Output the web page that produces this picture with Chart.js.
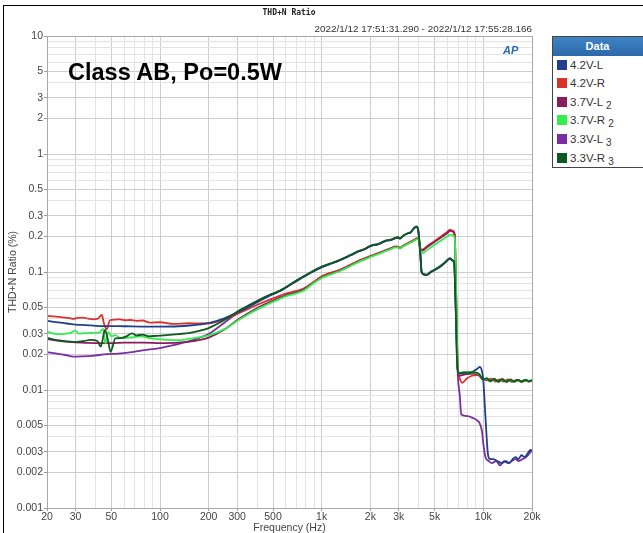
<!DOCTYPE html>
<html>
<head>
<meta charset="utf-8">
<script src="https://cdn.jsdelivr.net/npm/chart.js@4.4.1/dist/chart.umd.min.js"></script>
<style>
  html, body { margin:0; padding:0; background:#fff; }
  #wrap { position:relative; width:643px; height:533px; overflow:hidden; background:#fff; font-family:"Liberation Sans", Arial, sans-serif; }
  #c { position:absolute; left:0; top:0; }
  .t { position:absolute; white-space:nowrap; }
  #frame { position:absolute; left:3px; top:5px; width:700px; height:600px; border-left:1px solid #000; border-top:1px solid #000; }
  #title { left:0; width:578px; top:8px; text-align:center; font:bold 8px "DejaVu Sans Mono", monospace; line-height:9px; color:#222; }
  #date { right:111px; top:23px; font-size:9.9px; line-height:11px; color:#333; }
  #cls { left:68px; top:59px; font-weight:bold; font-size:23.5px; line-height:26px; color:#000; }
  #ap { left:503px; top:44px; font:italic bold 11px "Liberation Sans", Arial, sans-serif; color:#2a66b8; line-height:13px; }
  #legend { position:absolute; left:552px; top:36px; width:95px; height:130px; border:1px solid #444; background:#fff; }
  #legend .hd { height:19px; background:linear-gradient(#3f84c4,#2b68aa); color:#fff; font-weight:bold; font-size:11px; line-height:19px; text-align:center; padding-right:6px; }
  #legend .it { position:absolute; left:4px; font-size:11.5px; line-height:13px; color:#333; }
  #legend .sw { display:inline-block; width:10px; height:10px; margin-right:3px; vertical-align:-1px; }
  #legend sub { font-size:10px; vertical-align:-3px; line-height:0; }
</style>
</head>
<body>
<div id="wrap">
  <canvas id="c" width="643" height="533"></canvas>
  <div id="frame"></div>
  <div class="t" id="title">THD+N Ratio</div>
  <div class="t" id="date">2022/1/12 17:51:31.290 - 2022/1/12 17:55:28.166</div>
  <div class="t" id="cls">Class AB, Po=0.5W</div>
  <div class="t" id="ap">AP</div>
  <div id="legend"><div class="hd">Data</div></div>
</div>
<script>
// ---- axis labels ----
const Y_LABELS = [10,5,3,2,1,0.5,0.3,0.2,0.1,0.05,0.03,0.02,0.01,0.005,0.003,0.002,0.001];
const X_LABELS = [20,30,50,100,200,300,500,1000,2000,3000,5000,10000,20000];
const X_TEXT   = ['20','30','50','100','200','300','500','1k','2k','3k','5k','10k','20k'];
const SERIES_NAMES = ['4.2V-L','4.2V-R','3.7V-L 2','3.7V-R 2','3.3V-L 3','3.3V-R 3'];
const SERIES_COLORS = ['#213f8c','#d8322c','#8a1c5e','#33ee4a','#7a2ea4','#0e5a1e'];

// ---- series data: [frequency Hz, THD+N %] ----
const S_42L = [[20,0.0385],[22,0.0378],[25,0.037],[28,0.0362],[30,0.0358],[35,0.0355],[40,0.035],[50,0.0348],[60,0.0347],[80,0.0345],[100,0.0345],[130,0.0347],[153,0.0352],[180,0.036],[200,0.0368],[250,0.0405],[312,0.0465],[400,0.0555],[470,0.0625],[552,0.069],[700,0.084],[850,0.098],[1000,0.110],[1150,0.118],[1300,0.126],[1500,0.138],[1700,0.150],[1850,0.156],[1950,0.163],[2085,0.169],[2200,0.171],[2350,0.177],[2500,0.184],[2650,0.186],[2840,0.193],[2950,0.196],[3050,0.192],[3200,0.203],[3400,0.212],[3550,0.216],[3700,0.232],[3850,0.241],[3950,0.228],[4080,0.14],[4150,0.1],[4300,0.095],[4460,0.094],[4700,0.099],[5000,0.104],[5400,0.111],[5800,0.12],[6215,0.13],[6450,0.125],[6600,0.12],[6750,0.05],[6900,0.016],[7100,0.0138],[8000,0.0141],[8600,0.0143],[9200,0.0152],[9500,0.0157],[9800,0.0145],[10000,0.012],[10300,0.006],[10700,0.0028],[11000,0.0026],[11500,0.0026],[12200,0.0025],[13000,0.0024],[13800,0.0025],[14500,0.0024],[15200,0.0026],[15800,0.0027],[16500,0.0026],[17200,0.0028],[18000,0.0027],[18800,0.0029],[19600,0.0031],[20000,0.003]];
const S_42R = [[20,0.0424],[22,0.042],[24.4,0.0415],[26,0.041],[27.8,0.0406],[29,0.040],[31,0.0408],[33.4,0.041],[36,0.0402],[38.6,0.0397],[41,0.040],[43.7,0.0432],[45,0.0367],[46.8,0.0327],[49,0.039],[53,0.0395],[56.6,0.0397],[61,0.039],[65.7,0.0392],[71.7,0.0385],[78,0.0388],[86.7,0.0372],[100,0.0375],[121,0.0363],[150,0.0368],[177,0.0367],[200,0.0368],[250,0.0398],[312,0.0452],[400,0.0528],[500,0.0598],[600,0.0655],[769,0.0722],[900,0.083],[1000,0.092],[1300,0.105],[1500,0.115],[1700,0.125],[1900,0.133],[2085,0.140],[2300,0.147],[2500,0.154],[2700,0.160],[2840,0.165],[2950,0.164],[3050,0.161],[3200,0.168],[3500,0.179],[3750,0.188],[3890,0.194],[3990,0.189],[4080,0.16],[4150,0.154],[4500,0.166],[5000,0.183],[5500,0.201],[6000,0.219],[6215,0.228],[6450,0.224],[6650,0.21],[6800,0.06],[6950,0.015],[7100,0.0128],[7400,0.0115],[7900,0.0125],[8500,0.0132],[9200,0.0134],[9800,0.0126],[10500,0.0121],[11200,0.0125],[11900,0.0118],[12600,0.0123],[13400,0.0118],[14200,0.0123],[15000,0.0117],[16000,0.0122],[17000,0.0118],[18000,0.0122],[19000,0.0118],[20000,0.012]];
const S_37L = [[20,0.027],[25,0.0258],[30,0.0253],[40,0.025],[50,0.025],[60,0.0252],[80,0.0252],[100,0.025],[130,0.0252],[153,0.0257],[177,0.0266],[200,0.0278],[250,0.0325],[312,0.0405],[400,0.0495],[500,0.0572],[600,0.0635],[769,0.0705],[900,0.082],[1000,0.090],[1300,0.103],[1500,0.113],[1700,0.123],[1900,0.131],[2085,0.138],[2300,0.145],[2500,0.152],[2700,0.158],[2840,0.163],[2950,0.162],[3050,0.159],[3200,0.166],[3500,0.177],[3750,0.186],[3890,0.192],[3990,0.187],[4080,0.158],[4150,0.151],[4500,0.163],[5000,0.180],[5500,0.197],[6000,0.214],[6215,0.223],[6450,0.22],[6650,0.205],[6800,0.06],[6950,0.015],[7100,0.0132],[7600,0.0135],[8200,0.0137],[8800,0.0138],[9400,0.0134],[10000,0.0121],[10500,0.0124],[11000,0.0119],[11700,0.0123],[12400,0.0118],[13100,0.0122],[13900,0.0118],[14700,0.0121],[15500,0.0118],[16400,0.0122],[17300,0.0117],[18300,0.0121],[19200,0.0118],[20000,0.012]];
const S_37R = [[20,0.0312],[22,0.030],[24,0.0297],[26,0.030],[28,0.0305],[30,0.0318],[31.5,0.030],[34,0.0303],[38,0.0305],[42,0.0306],[44.5,0.033],[46,0.0248],[48,0.031],[50,0.0285],[53,0.0292],[57,0.0275],[65,0.0278],[75,0.0285],[90,0.0272],[110,0.0266],[130,0.0264],[153,0.0272],[177,0.028],[200,0.029],[250,0.0328],[312,0.0398],[400,0.0482],[500,0.0558],[600,0.0622],[769,0.0692],[900,0.081],[1000,0.089],[1300,0.102],[1500,0.112],[1700,0.122],[1900,0.130],[2085,0.137],[2300,0.144],[2500,0.151],[2700,0.157],[2840,0.162],[2950,0.161],[3050,0.158],[3200,0.165],[3500,0.176],[3750,0.185],[3890,0.190],[3990,0.186],[4080,0.155],[4150,0.143],[4500,0.154],[5000,0.170],[5500,0.186],[6000,0.200],[6215,0.207],[6450,0.205],[6650,0.195],[6800,0.06],[6950,0.015],[7100,0.014],[7600,0.0142],[8200,0.0141],[8800,0.014],[9400,0.0136],[10000,0.0122],[10500,0.0125],[11000,0.0118],[11700,0.0124],[12400,0.0117],[13100,0.0123],[13900,0.0117],[14700,0.0122],[15500,0.0117],[16400,0.0121],[17300,0.0118],[18300,0.0121],[19200,0.0119],[20000,0.0121]];
const S_33L = [[20,0.0209],[23,0.0203],[26,0.0198],[29,0.0192],[33,0.0193],[38,0.0195],[47,0.0201],[55,0.0203],[65,0.0208],[75,0.0215],[90,0.0222],[105,0.023],[121,0.024],[150,0.0258],[177,0.0278],[200,0.0298],[250,0.0372],[312,0.0465],[400,0.0565],[470,0.063],[552,0.069],[700,0.084],[850,0.098],[1000,0.110],[1150,0.118],[1300,0.126],[1500,0.138],[1700,0.150],[1850,0.156],[1950,0.163],[2085,0.169],[2200,0.171],[2350,0.177],[2500,0.184],[2650,0.186],[2840,0.193],[2950,0.196],[3050,0.192],[3200,0.203],[3400,0.212],[3550,0.216],[3700,0.232],[3850,0.241],[3950,0.228],[4080,0.14],[4150,0.1],[4300,0.095],[4460,0.094],[4700,0.099],[5000,0.104],[5400,0.111],[5800,0.12],[6215,0.13],[6450,0.125],[6600,0.12],[6750,0.05],[6950,0.0135],[7150,0.009],[7300,0.0062],[8000,0.006],[8600,0.0058],[9200,0.0055],[9500,0.0052],[9800,0.0045],[10000,0.0035],[10300,0.0027],[10800,0.0025],[11300,0.0024],[12000,0.0025],[12700,0.0023],[13400,0.0025],[14200,0.0024],[15000,0.0025],[15800,0.0026],[16600,0.0025],[17500,0.0026],[18400,0.0027],[19300,0.0029],[20000,0.0031]];
const S_33R = [[20,0.0277],[23,0.0265],[26,0.026],[30,0.0255],[34,0.026],[37,0.0266],[41,0.026],[43,0.0233],[45.7,0.0323],[47.5,0.027],[49.5,0.0211],[53,0.0274],[57,0.0275],[62,0.0285],[67,0.0302],[72,0.029],[78,0.0295],[85,0.0285],[95,0.0288],[110,0.0292],[130,0.0298],[153,0.0305],[177,0.0318],[200,0.0335],[250,0.0392],[312,0.0475],[400,0.057],[470,0.0635],[552,0.0695],[700,0.085],[850,0.099],[1000,0.111],[1150,0.119],[1300,0.127],[1500,0.139],[1700,0.151],[1850,0.157],[1950,0.164],[2085,0.170],[2200,0.172],[2350,0.178],[2500,0.185],[2650,0.187],[2840,0.194],[2950,0.197],[3050,0.193],[3200,0.204],[3400,0.213],[3550,0.217],[3700,0.233],[3850,0.243],[3950,0.229],[4080,0.14],[4150,0.1],[4300,0.096],[4460,0.095],[4700,0.1],[5000,0.105],[5400,0.112],[5800,0.121],[6215,0.131],[6450,0.126],[6600,0.121],[6750,0.05],[6900,0.016],[7100,0.0139],[7600,0.0141],[8200,0.014],[8800,0.0141],[9400,0.0137],[10000,0.0123],[10500,0.0126],[11000,0.0119],[11700,0.0124],[12400,0.0118],[13100,0.0124],[13900,0.0117],[14700,0.0123],[15500,0.0118],[16400,0.0122],[17300,0.0118],[18300,0.0122],[19200,0.0119],[20000,0.0121]];

const SERIES = [S_42L, S_42R, S_37L, S_37R, S_33L, S_33R];
const DRAW_ORDER = [2, 4, 3, 1, 5, 0]; // lower = drawn on top

// ---- legend (HTML) ----
const legend = document.getElementById('legend');
const rowTops = [22, 40, 59, 77, 96, 115];
SERIES_NAMES.forEach((n, i) => {
  const d = document.createElement('div');
  d.className = 'it';
  d.style.top = rowTops[i] + 'px';
  const parts = n.split(' ');
  d.innerHTML = '<span class="sw" style="background:' + SERIES_COLORS[i] + '"></span>' + parts[0] + (parts[1] ? ' <sub>' + parts[1] + '</sub>' : '');
  legend.appendChild(d);
});

// ---- helpers ----
function near(v, list) { return list.findIndex(l => Math.abs(v / l - 1) < 1e-6); }
function decadeTicks(lo, hi) {
  const out = [];
  for (let e = Math.floor(Math.log10(lo)); e <= Math.ceil(Math.log10(hi)); e++) {
    for (let m = 1; m <= 9; m++) {
      const v = Number((m * Math.pow(10, e)).toPrecision(4));
      if (v >= lo * 0.999999 && v <= hi * 1.000001) out.push(v);
    }
  }
  return out;
}

const framePlugin = {
  id: 'plotFrame',
  afterDraw(chart) {
    const { ctx, chartArea: a } = chart;
    ctx.save();
    ctx.strokeStyle = '#a8a8a8';
    ctx.lineWidth = 1;
    ctx.strokeRect(Math.round(a.left) + 0.5, Math.round(a.top) + 0.5, Math.round(a.right - a.left), Math.round(a.bottom - a.top));
    ctx.restore();
  }
};

new Chart(document.getElementById('c'), {
  type: 'line',
  data: {
    datasets: SERIES.map((s, i) => ({
      label: SERIES_NAMES[i],
      data: s.map(p => ({ x: p[0], y: p[1] })),
      borderColor: SERIES_COLORS[i],
      backgroundColor: SERIES_COLORS[i],
      borderWidth: 1.8,
      pointRadius: 0,
      cubicInterpolationMode: 'monotone',
      borderJoinStyle: 'round',
      order: DRAW_ORDER[i]
    }))
  },
  options: {
    responsive: false,
    animation: false,
    devicePixelRatio: 1,
    layout: { padding: { left: 0, right: 111, top: 36, bottom: 0 } },
    plugins: { legend: { display: false }, tooltip: { enabled: false } },
    scales: {
      x: {
        type: 'logarithmic',
        min: 20, max: 20000,
        afterBuildTicks: ax => { ax.ticks = decadeTicks(20, 20000).map(v => ({ value: v })); },
        afterFit: ax => { ax.height = 25; },
        ticks: {
          autoSkip: false, maxRotation: 0, padding: 0,
          font: { family: '"Liberation Sans", Arial, sans-serif', size: 10.5 },
          color: '#444',
          callback: v => { const k = near(v, X_LABELS); return k >= 0 ? X_TEXT[k] : ''; }
        },
        grid: {
          color: c => (c.tick && near(c.tick.value, X_LABELS) >= 0) ? '#cdcdcd' : '#e3e3e3',
          tickColor: c => (c.tick && near(c.tick.value, X_LABELS) >= 0) ? '#999' : 'rgba(0,0,0,0)',
          tickLength: 3
        },
        border: { color: '#8c8c8c' },
        title: { display: true, text: 'Frequency (Hz)', color: '#444', padding: { top: 0, bottom: 0 },
          font: { family: '"Liberation Sans", Arial, sans-serif', size: 10.5, lineHeight: 1 } }
      },
      y: {
        type: 'logarithmic',
        min: 0.001, max: 10,
        afterBuildTicks: ax => { ax.ticks = decadeTicks(0.001, 10).map(v => ({ value: v })); },
        afterFit: ax => { ax.width = 47; },
        ticks: {
          autoSkip: false, padding: 1,
          font: { family: '"Liberation Sans", Arial, sans-serif', size: 10.5 },
          color: '#444',
          callback: v => { const k = near(v, Y_LABELS); return k >= 0 ? String(Y_LABELS[k]) : ''; }
        },
        grid: {
          color: c => (c.tick && near(c.tick.value, Y_LABELS) >= 0) ? '#cdcdcd' : '#e3e3e3',
          tickColor: c => (c.tick && near(c.tick.value, Y_LABELS) >= 0) ? '#999' : 'rgba(0,0,0,0)',
          tickLength: 3
        },
        border: { color: '#8c8c8c' },
        title: { display: true, text: 'THD+N Ratio (%)', color: '#444', padding: { top: 7, bottom: 0 },
          font: { family: '"Liberation Sans", Arial, sans-serif', size: 10.5 } }
      }
    }
  },
  plugins: [framePlugin]
});
</script>
</body>
</html>
